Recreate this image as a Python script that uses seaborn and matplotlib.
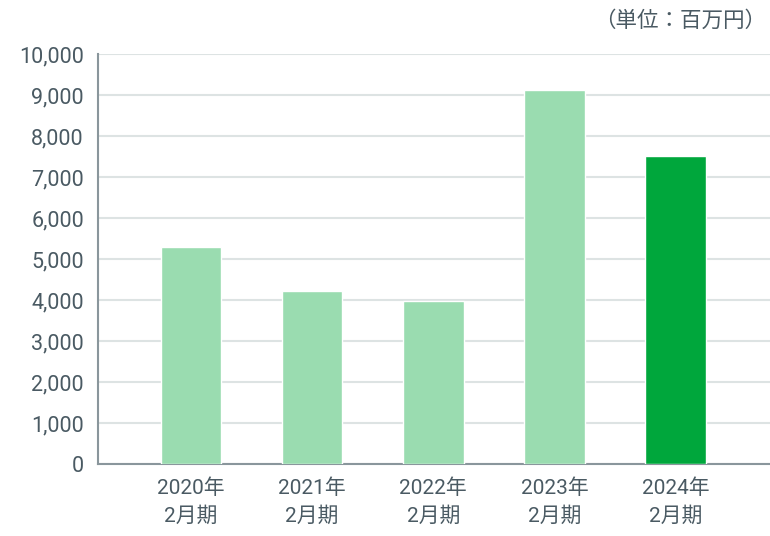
import pandas as pd
import matplotlib.pyplot as plt
import seaborn as sns

# Data
periods = ["2020年\n2月期", "2021年\n2月期", "2022年\n2月期", "2023年\n2月期", "2024年\n2月期"]
values = [5290, 4220, 3975, 9120, 7510]
bar_colors = ["#9adcb0", "#9adcb0", "#9adcb0", "#9adcb0", "#00a73c"]
y_ticks = [0, 1000, 2000, 3000, 4000, 5000, 6000, 7000, 8000, 9000, 10000]

df = pd.DataFrame({"period": periods, "value": values})

sns.set_style("white")
plt.rcParams['font.family'] = ['Roboto', 'Noto Sans CJK JP', 'DejaVu Sans']
text_color = "#4a5a63"

fig = plt.figure(figsize=(7.7, 5.36), dpi=100)
ax = fig.add_axes([0.127, 0.134, 0.873, 0.765])

sns.barplot(data=df, x="period", y="value", hue="period", palette=bar_colors,
            width=0.5, saturation=1, legend=False, ax=ax, zorder=3)

ax.set_ylim(0, 10000)
ax.set_xlim(-0.77, 4.78)
ax.set_yticks(y_ticks)
ax.set_yticklabels([f"{v:,}" for v in y_ticks])
ax.grid(axis="y", color="#dde3e3", linewidth=1.5, zorder=0)
ax.set_xlabel("")
ax.set_ylabel("")

for s in ["top", "right"]:
    ax.spines[s].set_visible(False)
for s in ["left", "bottom"]:
    ax.spines[s].set_color("#8a969c")
    ax.spines[s].set_linewidth(1.5)

ax.tick_params(axis="y", length=0, pad=10, labelsize=15.5, labelcolor=text_color)
ax.tick_params(axis="x", length=0, pad=10, labelsize=15, labelcolor=text_color)
for lbl in ax.get_xticklabels():
    lbl.set_linespacing(1.55)

fig.text(0.995, 0.962, "（単位：百万円）", ha="right", va="center",
         fontsize=15.5, color=text_color, family=['Noto Sans CJK JP', 'DejaVu Sans'])

plt.savefig("out.png", dpi=100)
